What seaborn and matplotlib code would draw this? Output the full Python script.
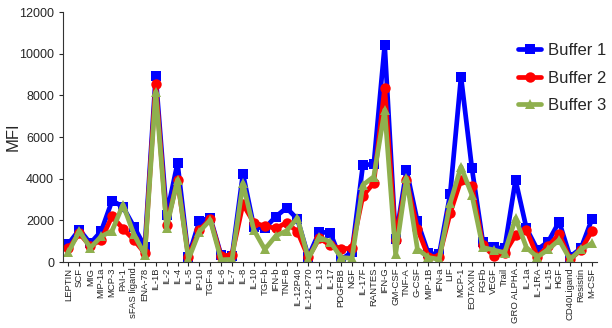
import matplotlib
matplotlib.use("Agg")
import matplotlib.pyplot as plt
import seaborn as sns
import pandas as pd
import numpy as np

categories = ["LEPTIN", "SCF", "MIG", "MIP-1a", "MCP-3", "PAI-1", "sFAS ligand", "ENA-78",
              "IL-1B", "IL-2", "IL-4", "IL-5", "IP-10", "TGF-a", "IL-6", "IL-7", "IL-8",
              "IL-10", "TGF-b", "IFN-b", "TNF-B", "IL-12P40", "IL-12-P70", "IL-13", "IL-17",
              "PDGFBB", "NGF", "IL-17F", "RANTES", "IFN-G", "GM-CSF", "TNF-A", "G-CSF",
              "MIP-1B", "IFN-a", "LIF", "MCP-1", "EOTAXIN", "FGFb", "VEGF", "Trail",
              "GRO ALPHA", "IL-1a", "IL-1RA", "IL-15", "HGF", "CD40Ligand", "Resistin", "M-CSF"]

buffer1 = [880, 1560, 900, 1480, 2950, 2650, 1700, 740,
           8930, 2280, 4750, 260, 1960, 2140, 320, 300, 4240,
           1700, 1620, 2180, 2600, 2060, 260, 1440, 1410,
           100, 500, 4660, 4700, 10420, 1090, 4420, 1950,
           420, 370, 3250, 8900, 4500, 980, 700, 660,
           3940, 1620, 600, 980, 1940, 260, 660, 2050]

buffer2 = [660, 1380, 760, 1070, 2200, 1600, 1070, 420,
           8540, 1780, 3940, 250, 1540, 2060, 270, 360, 2780,
           1890, 1730, 1620, 1890, 1460, 220, 1140, 820,
           640, 660, 3180, 3800, 8380, 1060, 3940, 1600,
           260, 260, 2340, 3940, 3660, 820, 290, 420,
           1300, 1540, 260, 770, 1340, 130, 580, 1490]

buffer3 = [480, 1490, 680, 1230, 1500, 2760, 1330, 360,
           8180, 1650, 3960, 130, 1460, 2020, 110, 130, 3780,
           1540, 610, 1250, 1500, 2120, 160, 1180, 980,
           220, 180, 3700, 4100, 7300, 370, 4020, 630,
           220, 130, 2820, 4580, 3220, 700, 580, 450,
           2100, 700, 240, 610, 1060, 130, 610, 900]

series_names = ["Buffer 1", "Buffer 2", "Buffer 3"]

sns.set_style("white")
plt.rcParams["font.family"] = ["Liberation Sans", "DejaVu Sans"]

rows = []
for name, vals in zip(series_names, [buffer1, buffer2, buffer3]):
    for i, v in enumerate(vals):
        rows.append({"idx": i, "MFI": v, "series": name})
df = pd.DataFrame(rows)

fig = plt.figure(figsize=(6.12, 3.28), dpi=100)
ax = fig.add_axes([0.103, 0.201, 0.873, 0.762])

palette = {"Buffer 1": "#0000FF", "Buffer 2": "#FF0000", "Buffer 3": "#8FB04E"}
markers = {"Buffer 1": "s", "Buffer 2": "o", "Buffer 3": "^"}
sns.lineplot(data=df, x="idx", y="MFI", hue="series", style="series",
             palette=palette, markers=markers, dashes=False, ax=ax,
             linewidth=3.4, markersize=7.5, markeredgewidth=0)

ax.set_xlim(-0.5, len(categories) - 0.5)
ax.set_ylim(0, 12000)
ax.set_yticks(np.arange(0, 12001, 2000))
ax.set_xticks(range(len(categories)))
ax.set_xticklabels(categories, rotation=90, fontsize=6.8)
ax.tick_params(axis="y", labelsize=9, direction="out", length=3, width=0.8, left=True)
ax.tick_params(axis="x", direction="out", length=3, width=0.8, bottom=True, pad=1)
ax.set_xlabel("")
ax.set_ylabel("MFI", fontsize=12)
ax.yaxis.set_label_coords(-0.079, 0.5)
for s in ["top", "right"]:
    ax.spines[s].set_visible(False)
for s in ["left", "bottom"]:
    ax.spines[s].set_color("#333333")
    ax.spines[s].set_linewidth(0.8)

leg = ax.legend(loc="upper right", bbox_to_anchor=(1.045, 0.936), frameon=False,
                fontsize=12, handlelength=1.4, labelspacing=0.75, handletextpad=0.4)
for h in leg.legend_handles:
    h.set_linewidth(3.4)

fig.savefig("out.png", dpi=100)
